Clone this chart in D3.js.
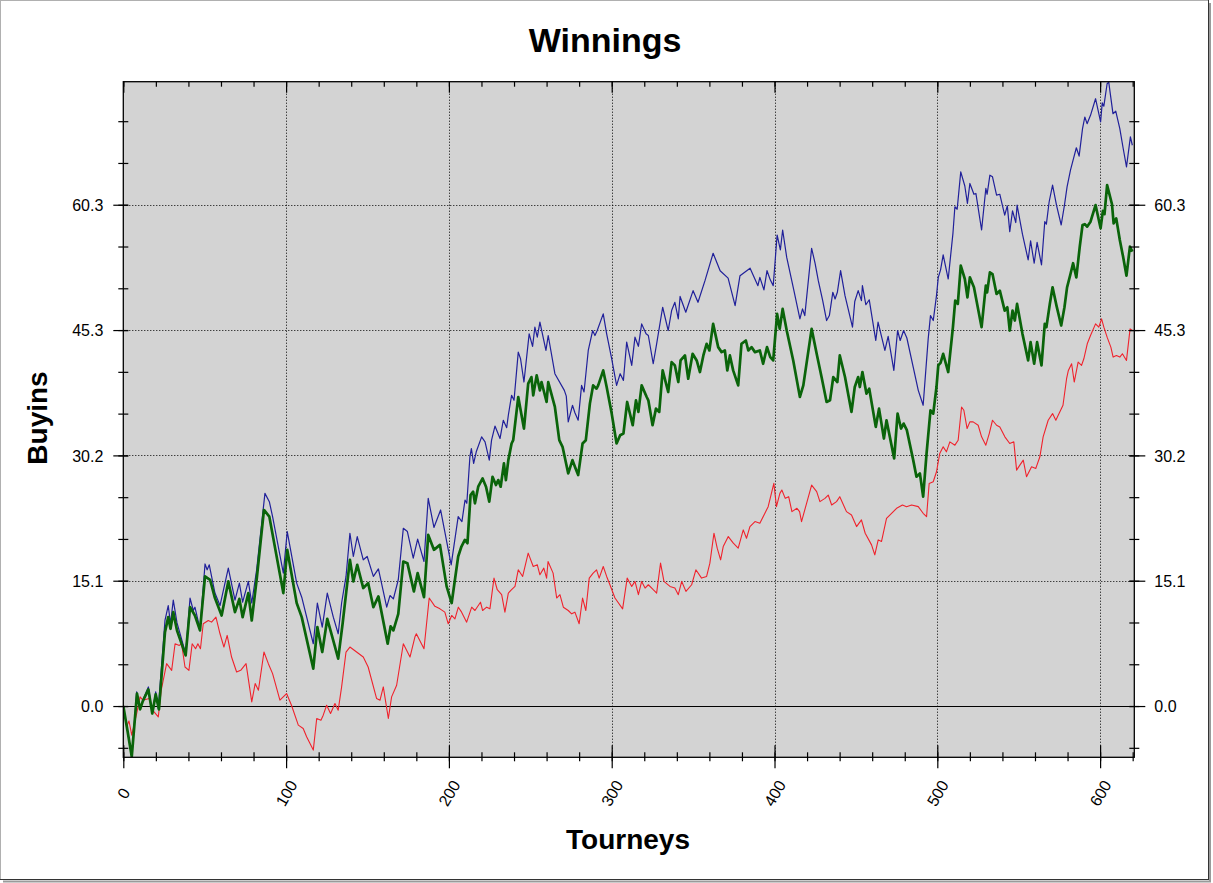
<!DOCTYPE html>
<html>
<head>
<meta charset="utf-8">
<script src="https://cdn.jsdelivr.net/npm/d3@7"></script>
<style>
  body { margin: 0; background: #fff; }
  svg { display: block; font-family: "Liberation Sans", Arial, sans-serif; }
</style>
</head>
<body>
<svg id="chart" width="1213" height="883"></svg>
<script>
// [tourney, buyins] points
const withRakeback = [[0,0],[2.6,-3],[5.2,-6.1],[8.2,1.7],[10.3,-0.25],[12,0.7],[15.4,2.3],[17.8,-0.9],[19.9,1.7],[21.5,-0.3],[25.6,10.3],[27.6,12.1],[29,9.9],[30.7,12.75],[33,10],[38.3,6.3],[41,13],[43,11.5],[44,11.9],[47.1,9.3],[50.2,17.1],[51.5,16.4],[52.8,17],[56.3,13.6],[59.4,12.1],[64.5,16.6],[68.6,12.75],[71.3,14.8],[73.3,12.5],[76.8,15],[78.9,12.4],[81.9,16.4],[87,25.6],[89.7,24.6],[91.7,22.8],[98.3,16],[100.7,21],[106.5,14.8],[109.6,13.1],[116.7,7.5],[119.2,12.4],[122.2,9.5],[125.3,13.6],[129,10.7],[132,8.7],[134.1,12.4],[136.8,15.6],[139.2,20.8],[141.3,18],[143.7,20.4],[147.4,17.6],[149.8,18],[153.6,15.6],[156.7,16.5],[161.8,11.9],[163.8,13.3],[165.9,12.9],[168.9,15.2],[172,21.4],[174.5,21],[178.1,17.8],[180.8,20.1],[184.7,17.4],[187.3,25],[190.8,21.5],[194.9,23.6],[201.4,17],[205.7,22.8],[208,22.2],[209.9,24.8],[211,24.4],[212.9,30],[213.8,31],[215.2,29.2],[216.8,30.6],[220.1,32.4],[222.2,31.8],[224.8,29.6],[226.2,32],[228.3,33.7],[231.4,32.2],[233.4,34.4],[235.5,33.5],[236.5,35],[238.5,37.4],[240,36.8],[242.6,42.6],[244,41.8],[246.1,39],[249.3,44.8],[251.4,43.3],[252.8,45.6],[254.3,44.4],[255.9,46.2],[259.6,42.8],[261,44.6],[265.1,40],[270.9,38],[272.1,37.3],[273.3,34.2],[275.9,36.2],[277.4,35.3],[279.4,34.4],[281.5,38.6],[283,37.8],[285.6,42.8],[288.3,45.2],[289.7,44.6],[291.1,45.2],[294.8,47.2],[296.9,44.8],[300,41.8],[303,38.6],[305.2,40],[307.2,39.2],[309.2,43.8],[312.3,41],[314.3,44.4],[316.4,43.3],[318.4,46],[321.1,44.8],[322.5,44.6],[325.5,41.2],[327.6,43.6],[331.3,48],[334.7,45.2],[336.8,47.6],[338.8,48.6],[340.9,46.6],[342,49.3],[345.5,47.4],[350,50],[353,48.6],[357.3,51.2],[362.3,54.5],[366.6,52.4],[371.5,51.5],[375.8,48.2],[378.8,51.8],[385,52.7],[389.8,50.6],[391,51.6],[393.5,50.1],[395.4,52.4],[397.4,51.3],[399.2,50.6],[400.4,53.6],[401.6,56.7],[403.6,54.9],[405,57.3],[407.5,54],[411.5,50.4],[415.6,46.6],[417.2,47.8],[418.6,47],[422.8,55.1],[424.9,53.3],[426.9,51.2],[429.6,48.8],[432,46.4],[433.7,47],[435.8,49.8],[437.2,49],[438.6,49.8],[440.6,52.4],[443.3,49.4],[447.9,45.6],[449.3,48.7],[451.4,50],[453.4,48.8],[454,50.6],[456.1,48.3],[458.2,48.9],[462.2,44],[463.6,46.2],[467.8,42.8],[469.8,44.5],[473.3,40.4],[475.6,45.2],[477.2,44],[479.3,45.2],[481.3,44.3],[485.2,40.8],[488.3,38],[491.3,36.2],[494.4,44.2],[495.8,47],[497.5,46.4],[499.5,49.4],[500.6,51.6],[502,52.5],[503.6,54.3],[506.7,51.4],[509.6,56.9],[510.8,60.1],[512.2,59.8],[514.4,64.3],[516.9,62.6],[518.5,60.5],[520,62.9],[522.5,61.6],[523.7,61.7],[527.2,57.3],[529.8,62.3],[530.6,61.6],[532.3,63.9],[533.9,63.7],[536.4,61.5],[538.4,61.6],[541.4,59.1],[543,60.2],[544.5,57.1],[546.2,59.6],[548.2,58.2],[549,60.3],[552.3,56.8],[555.8,53.7],[557.3,56],[559.5,53.3],[561.3,55.8],[564,53.1],[566,58.3],[567,58],[568.7,60.7],[570.8,62.7],[573.2,60.3],[576.1,57.9],[578.1,60.3],[579.7,62.5],[581.8,64.5],[583.4,65.7],[585.4,67.2],[587.1,66.2],[589.2,69.5],[590.6,70.9],[592,70.1],[594.1,71.1],[597.2,73.1],[600.3,70.3],[601.3,72.6],[602.3,72.2],[604.3,74.9],[605.3,75.1],[607.9,71.3],[609.6,71.6],[612.1,69.5],[614.1,67.2],[616.2,64.9],[618.6,68.5],[619.8,67.5]]

const winnings = [[0,0],[2.6,-3],[5.2,-6.1],[8.4,1.5],[10.3,-0.4],[12,0.6],[15.4,2],[17.8,-0.9],[19.9,1.4],[21.9,-0.4],[25.6,8.9],[27.6,10.7],[29,9.3],[30.7,11.3],[33,9.1],[38.3,6.1],[41,11.9],[44,10.9],[47.1,9.1],[50.2,15.6],[53.3,15.2],[56.3,13],[60.4,10.9],[64.5,15],[68.6,11.3],[71.3,12.9],[73.3,10.7],[76.8,13.6],[78.9,10.3],[81.9,15.2],[86.4,23.6],[89.7,22.8],[98.3,13.6],[100.7,18.8],[106.5,12.4],[109.6,10.7],[116.7,4.5],[119.2,9.5],[122.2,6.5],[125.3,10.5],[128.4,8.3],[132,5.7],[134.7,9.9],[139.2,17.6],[141.3,15],[143.7,17],[147.4,14.2],[150.4,14.8],[153.6,11.9],[156.7,13.2],[162.4,7.5],[164.2,9.6],[165.9,9.1],[168.9,11.1],[172,17.4],[174.5,17.2],[178.5,13.8],[180.8,16],[184.7,13.1],[187.3,20.6],[190.8,18.8],[194.5,19.4],[198.6,14.4],[201.7,12.4],[205.7,18],[207.7,19.2],[209.8,20],[211.4,19.6],[213.3,25.4],[214.9,25.8],[216,24.4],[218,26.4],[220.7,27.4],[222.8,26.4],[224.8,24.6],[226.8,27.6],[228.9,26.6],[230.3,27.2],[231.8,26.4],[233.8,29.2],[235,27.2],[236.5,29.6],[238.5,31.6],[239.5,32],[242.6,37.2],[246.1,33.4],[248.7,38.8],[250.7,39.6],[251.8,37.4],[253.9,39.8],[255.9,38],[256.9,39],[260,36.6],[261,39],[265.1,36],[267.8,32],[269.8,31.2],[273.3,28],[275.9,29.6],[277.4,28.8],[279.4,27.8],[282.1,31.6],[284.1,32],[286.6,36.4],[288.6,38.6],[290.7,38.2],[291.7,38.6],[294.8,40.4],[296.9,38.4],[300,35.2],[303,31.6],[305.2,32.6],[307.2,32.8],[309.5,36.6],[312.9,33.8],[314.9,36.8],[316.4,35.4],[318.4,38.6],[321.5,37.2],[322.5,36.8],[325.1,33.8],[327.2,35.8],[329.2,35.4],[331.3,40.4],[334.7,37.8],[336.8,41.4],[338.8,41],[340.9,39],[342.3,41.6],[345,42.2],[347,39.4],[349.7,42.4],[352.2,41.6],[354.2,40.2],[356.3,42.2],[358.3,43.6],[360,42.8],[362.3,46],[365.4,43.2],[367.5,42.6],[369.5,42.8],[371,40.4],[372.6,42.2],[374.6,40.4],[377.7,38.6],[379.7,43.6],[382.4,44],[383.9,42.8],[385.9,43.2],[388,42.6],[391,42.8],[393,41.2],[395.4,43.2],[397.4,42],[399.2,41.6],[401.6,47.2],[403.2,45.4],[405,47.8],[407.5,45.2],[411.5,41.6],[415.6,37.2],[417.7,38.6],[422.8,45.4],[425.9,42.4],[428.9,39.6],[432,36.6],[434.1,36.8],[436.1,39.6],[438.6,39],[440.1,42.2],[443.3,39.6],[447.3,35.4],[449.3,38.4],[451.4,39.6],[452.4,38.4],[454,40.2],[456.5,37.6],[458.2,38.2],[462.2,33.6],[464.2,35.8],[467.2,32.2],[468.8,34.4],[473.5,29.8],[475.6,35.2],[477.7,33.4],[479.3,34],[481.3,33.2],[485.2,29.6],[487.2,27.6],[489.3,28],[491.3,25.2],[493.4,30.4],[495.8,35.6],[497.5,35.2],[499.5,38.4],[500.6,41],[502,41.3],[503.6,42.4],[506.7,40.2],[509.6,45.6],[511,48.8],[512.6,48.4],[514.4,53],[516.9,51.4],[518.5,49.2],[520,51.6],[522.5,50.4],[527.2,45.6],[529.8,50.6],[530.6,49.8],[532.3,52.2],[533.9,52],[536.4,49.6],[538.4,50],[541.4,47.6],[543,48],[544.5,45.2],[546.2,47.6],[547.6,46.4],[549,48.4],[552.3,44.8],[555.8,41.6],[557.3,43.8],[559.5,41.2],[561.3,43.8],[564,41],[566,46],[567,45.6],[569.1,48.4],[570.8,50.4],[573.2,48.2],[576.1,45.8],[578.1,48],[579.7,50.4],[581.8,52],[583.4,53.3],[585.4,51.6],[587.5,55.3],[589.2,57.9],[590.6,58],[592,57.7],[594.1,58.3],[597.2,60.3],[600.3,57.5],[601.7,59.6],[602.7,59.2],[604.3,62.7],[607.3,60.4],[608.3,58.1],[609.9,58.7],[612.1,56.1],[614.1,54.1],[616.2,51.8],[618.3,55.3],[619.8,54.7]]

const allInEV = [[0,0],[2,-2.5],[3.5,-1.8],[5.2,-3.5],[8.2,-0.9],[10.3,1.1],[12,0.7],[15.9,0.9],[18,-0.5],[21.5,-1.3],[23.3,1.9],[26.6,5.1],[29.7,4.3],[31.8,7.5],[34.4,7.3],[35.8,7.5],[37.9,4.7],[40.3,4.3],[42.3,7.5],[44.4,6.9],[45.8,7.5],[47.4,6.9],[49.1,9.9],[52.2,10.3],[54.2,10.1],[56.9,10.7],[59.4,8.7],[61.8,7.1],[63.8,8.5],[66.5,5.9],[69.6,4.1],[72.1,4.3],[75.4,5.1],[78.9,0.5],[81,2.7],[83,1.9],[86.4,6.5],[89.1,5.1],[91.7,3.9],[96.2,0.7],[100.3,1.5],[103.3,0.1],[107.5,-2.3],[110.5,-2.7],[112.6,-3.7],[116.7,-5.3],[118.8,-1.5],[121.4,-1.7],[122.8,-1.1],[124.9,0.1],[127.3,-0.9],[130,0.3],[132,-0.5],[134.1,2.3],[136.8,6.5],[139.2,7.1],[143.3,6.5],[147.4,5.9],[150.4,4.7],[155.6,0.9],[157.7,0.7],[159.7,2.3],[162.8,-1.5],[164.8,1.1],[167.9,2.5],[172,7.5],[176.1,5.9],[179.1,8.3],[180,8.7],[184.7,6.9],[187.9,13],[191.4,12],[194.5,11.7],[197.5,11.3],[199.6,9.9],[201.7,10.9],[203.7,10.5],[205.8,11.9],[207.8,11.3],[210.9,10.1],[214,11.9],[216,11.5],[219.4,12.5],[220.7,11.5],[223.2,11.9],[225.2,11.7],[227.7,15.4],[229.7,14],[232.4,13.4],[234.4,11.3],[236.5,13.6],[238.5,14],[240.6,14.4],[242.6,16.4],[245.3,15.6],[248.7,18.4],[251.8,16.8],[254.3,17],[255.9,15.8],[258.3,16.6],[260,15.4],[260.9,17.4],[264,16],[266.2,13],[268.2,13.4],[270.3,11.9],[273.3,11.5],[275.4,11.1],[277.4,11.3],[280,9.9],[282.1,13],[284.1,11.5],[286.2,15.4],[288.6,16],[290.7,16.4],[292.3,15.4],[294.8,16.8],[296.9,15.6],[298.9,14.6],[302,13],[306.7,11.7],[309.5,15.4],[312.3,14.4],[314.3,15],[316.4,13.4],[318.4,15],[320.5,14.2],[322.5,14.6],[325.5,14],[327.6,13.6],[330,17.2],[332.1,15],[335.8,14.4],[338.8,14.2],[340.9,13.4],[343,15],[345.6,13.8],[349.1,14.6],[351.7,16.4],[355.2,15.4],[358.3,15.6],[360.3,17.2],[362.8,20.8],[364.8,19],[366.9,17.6],[368.5,19.2],[371.6,20.4],[374.7,19.6],[377.7,19],[380.8,21.2],[382.8,20.2],[384.9,21.6],[388,22.2],[391,22],[394.1,23.2],[396.1,24],[399.6,26.8],[401.2,24],[403.3,25.6],[404.5,26],[406.6,25],[408.7,25.2],[410.7,23.4],[413.8,23.8],[415.4,23.4],[416.6,22.2],[419.7,24.4],[422.8,26.6],[425.9,25.8],[427.9,24.6],[431,25],[433,25.4],[435.1,24.2],[438.1,24.6],[440.1,25.2],[444.2,23.4],[447.3,23],[450.4,21.6],[453.4,22.4],[455.7,20.8],[459.6,19.4],[461.6,18.2],[463.7,20],[465.7,19.8],[468.8,22.6],[471.9,23.2],[475,23.8],[478.6,24.2],[481.1,24],[484.2,24.2],[488.3,24],[491.3,23.2],[493.4,22.8],[495,26.8],[497.5,27],[499.5,28.2],[501.5,30.4],[503.6,31.2],[505.6,30.6],[507.7,31.8],[510.8,31.4],[512.8,32],[514.9,36],[516.3,35.6],[518.3,33.4],[520,34.2],[522,34.2],[525.1,33.8],[527.2,32.4],[529.8,31.4],[531.9,32.8],[533.9,34.4],[536.4,33.8],[538.4,33.6],[541.5,32.4],[544.5,31.6],[547,31.8],[548.7,28.4],[550.7,29],[552.8,29.6],[554.8,27.6],[557.9,28.8],[560.5,28.6],[563,30],[565,32.4],[568.1,34.4],[570.8,35.2],[572.8,34.4],[577.2,36.2],[579.4,39.4],[580.5,40.4],[582.5,41.2],[584.1,39],[586.5,41.4],[588.6,41],[590,41.8],[592.1,43.6],[594.1,44.6],[597.2,46],[599.2,45.6],[600.9,46.6],[602.3,45.6],[604.3,44.4],[606.6,43.2],[608,42],[610,42.2],[612.1,42],[613.7,42.4],[616.2,41.6],[618.4,45.4],[619.8,45.2]]

const xMajorTicks = [0, 100, 200, 300, 400, 500, 600]
const xMinorTicks = d3.range(0, 621, 20)
const yMajorTicks = [0, 15.085, 30.17, 45.255, 60.34]
const yTickLabels = ['0.0', '15.1', '30.2', '45.3', '60.3']
const yMinorTicks = d3.range(-1, 15).map(i => i * 15.085 / 3)

const svg = d3.select('#chart')
const W = 1213, H = 883
const plot = {left: 123.3, right: 1134.3, top: 81.7, bottom: 757.3}

const x = d3.scaleLinear().domain([0, 621]).range([plot.left, plot.right])
const y = d3.scaleLinear().domain([-6.17, 75.15]).range([plot.bottom, plot.top])

svg.append('rect').attr('width', W).attr('height', H).attr('fill', '#fff')

// window frame with a small shadow
svg.append('line').attr('x1', 0.5).attr('y1', 0).attr('x2', 0.5).attr('y2', 879).attr('stroke', '#b0b0b0')
svg.append('line').attr('x1', 0).attr('y1', 0.5).attr('x2', 1208).attr('y2', 0.5).attr('stroke', '#b0b0b0')
svg.append('line').attr('x1', 1208.5).attr('y1', 0).attr('x2', 1208.5).attr('y2', 880).attr('stroke', '#333')
svg.append('line').attr('x1', 0).attr('y1', 879.5).attr('x2', 1209).attr('y2', 879.5).attr('stroke', '#333')
svg.append('path').attr('d', 'M1210,3V881.5H3').attr('fill', 'none').attr('stroke', '#9a9a9a').attr('stroke-width', 2)

svg.append('rect')
  .attr('x', plot.left).attr('y', plot.top)
  .attr('width', plot.right - plot.left).attr('height', plot.bottom - plot.top)
  .attr('fill', '#d3d3d3')

// grid
const grid = svg.append('g').attr('stroke', '#000').attr('stroke-dasharray', '1,2').attr('stroke-width', 1)
grid.selectAll('.gx').data(xMajorTicks.filter(d => d > 0)).join('line')
  .attr('x1', d => Math.round(x(d)) + 0.5).attr('x2', d => Math.round(x(d)) + 0.5)
  .attr('y1', plot.top).attr('y2', plot.bottom)
grid.selectAll('.gy').data(yMajorTicks.filter(d => d > 0)).join('line')
  .attr('x1', plot.left).attr('x2', plot.right)
  .attr('y1', d => Math.round(y(d)) + 0.5).attr('y2', d => Math.round(y(d)) + 0.5)
svg.append('line')
  .attr('x1', plot.left).attr('x2', plot.right)
  .attr('y1', Math.round(y(0)) + 0.5).attr('y2', Math.round(y(0)) + 0.5)
  .attr('stroke', '#000').attr('stroke-width', 1.2)

// series
svg.append('clipPath').attr('id', 'clip').append('rect')
  .attr('x', plot.left).attr('y', plot.top)
  .attr('width', plot.right - plot.left).attr('height', plot.bottom - plot.top)
const line = d3.line().x(d => x(d[0])).y(d => y(d[1]))
const series = [
  {data: withRakeback, color: '#20209a', width: 1.2},
  {data: allInEV, color: '#f0222c', width: 1.1},
  {data: winnings, color: '#0a640a', width: 2.7}
]
svg.append('g').attr('clip-path', 'url(#clip)')
  .selectAll('path').data(series).join('path')
  .attr('d', d => line(d.data))
  .attr('fill', 'none')
  .attr('stroke', d => d.color)
  .attr('stroke-width', d => d.width)
  .attr('stroke-linejoin', 'round')

// plot border
svg.append('rect')
  .attr('x', plot.left).attr('y', plot.top)
  .attr('width', plot.right - plot.left).attr('height', plot.bottom - plot.top)
  .attr('fill', 'none').attr('stroke', '#000').attr('stroke-width', 1.3)

function styleAxis (g) {
  g.select('.domain').remove()
  g.selectAll('line').attr('stroke', '#000').attr('stroke-width', 1.2)
  g.selectAll('text').attr('font-family', '"Liberation Sans", Arial, sans-serif').attr('font-size', 16).attr('fill', '#000')
}

// left axis
svg.append('g').attr('transform', `translate(${plot.left},0)`)
  .call(d3.axisLeft(y).tickValues(yMinorTicks).tickSize(5).tickFormat(''))
  .call(styleAxis)
  .selectAll('line').attr('x1', 5)
svg.append('g').attr('transform', `translate(${plot.left},0)`)
  .call(d3.axisLeft(y).tickValues(yMajorTicks).tickSize(10).tickPadding(10).tickFormat((d, i) => yTickLabels[i]))
  .call(styleAxis)
  .call(g => g.selectAll('line').attr('x1', 5))
  .call(g => g.selectAll('text').attr('dy', '0.36em'))

// right axis
svg.append('g').attr('transform', `translate(${plot.right},0)`)
  .call(d3.axisRight(y).tickValues(yMinorTicks).tickSize(5).tickFormat(''))
  .call(styleAxis)
  .selectAll('line').attr('x1', -5)
svg.append('g').attr('transform', `translate(${plot.right},0)`)
  .call(d3.axisRight(y).tickValues(yMajorTicks).tickSize(11).tickPadding(9).tickFormat((d, i) => yTickLabels[i]))
  .call(styleAxis)
  .call(g => g.selectAll('line').attr('x1', -5))
  .call(g => g.selectAll('text').attr('dy', '0.36em'))

// top axis, ticks inward
svg.append('g').attr('transform', `translate(0,${plot.top})`)
  .call(d3.axisTop(x).tickValues(xMinorTicks).tickSize(-5).tickFormat(''))
  .call(styleAxis)
svg.append('g').attr('transform', `translate(0,${plot.top})`)
  .call(d3.axisTop(x).tickValues(xMajorTicks).tickSize(-11).tickFormat(''))
  .call(styleAxis)

// bottom axis
svg.append('g').attr('transform', `translate(0,${plot.bottom})`)
  .call(d3.axisBottom(x).tickValues(xMinorTicks).tickSize(4).tickFormat(''))
  .call(styleAxis)
  .selectAll('line').attr('y1', -5)
const xAxisG = svg.append('g').attr('transform', `translate(0,${plot.bottom})`)
  .call(d3.axisBottom(x).tickValues(xMajorTicks).tickSize(11).tickFormat(d3.format('d')))
  .call(styleAxis)
xAxisG.selectAll('line').attr('y1', -12)
xAxisG.selectAll('text')
  .attr('y', 0).attr('dy', null)
  .attr('text-anchor', 'middle')
  .attr('dominant-baseline', 'central')
  .attr('transform', 'translate(0,36) rotate(-60)')

// titles
svg.append('text').attr('x', 605).attr('y', 52)
  .attr('text-anchor', 'middle').attr('font-size', 34).attr('font-weight', 'bold')
  .text('Winnings')
svg.append('text').attr('x', 628).attr('y', 849)
  .attr('text-anchor', 'middle').attr('font-size', 28).attr('font-weight', 'bold')
  .text('Tourneys')
svg.append('text')
  .attr('transform', 'translate(46.5,418) rotate(-90)')
  .attr('text-anchor', 'middle').attr('font-size', 28).attr('font-weight', 'bold')
  .text('Buyins')
</script>
</body>
</html>
